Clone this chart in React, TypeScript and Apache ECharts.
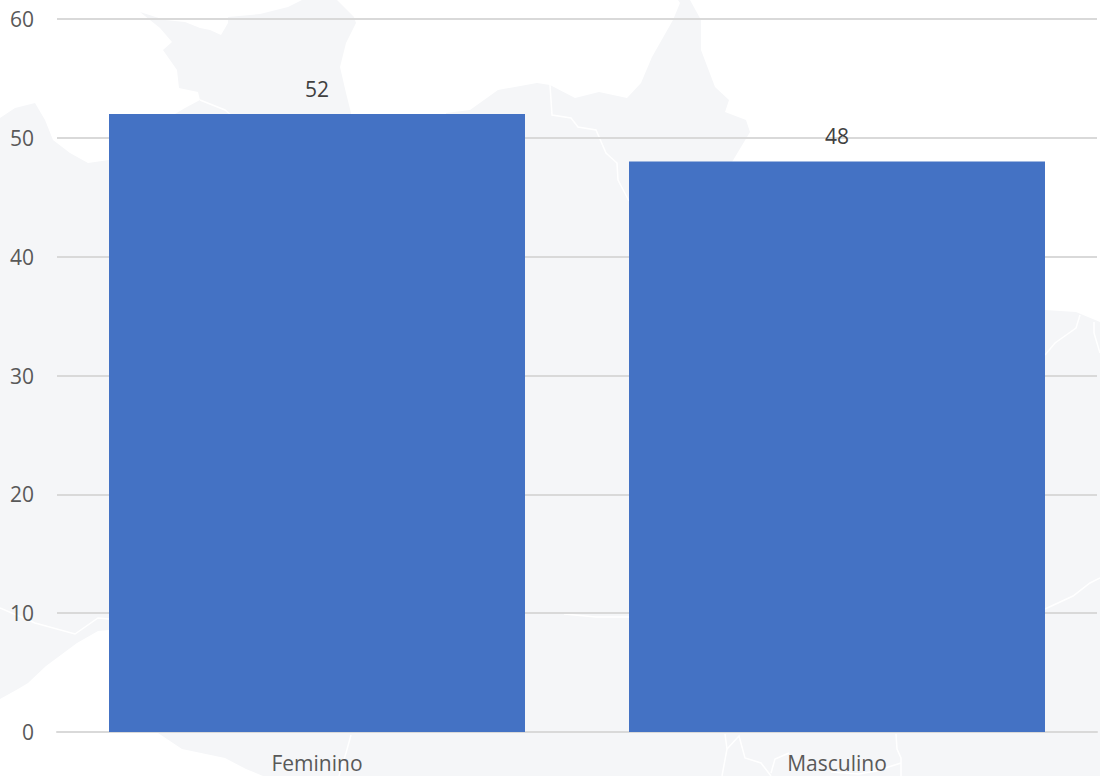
import React, { useEffect, useRef } from "react";
import * as echarts from "echarts";

const categories = ["Feminino", "Masculino"];
const values = [52, 48];
const yTicks = { min: 0, max: 60, interval: 10 };

const FONT = '"Open Sans", sans-serif';

// Faint background map, purely decorative
const mapOutline: number[][] = [
  [0, 118], [15, 108], [35, 103], [45, 120], [53, 140], [70, 153], [88, 163], [109, 160], [150, 125],
  [175, 114], [185, 108], [200, 100], [198, 92], [179, 88], [177, 70], [170, 60], [163, 50], [172, 42],
  [160, 28], [140, 12], [165, 20], [185, 22], [200, 28], [210, 30], [221, 35], [228, 23], [228, 17],
  [260, 14], [288, 7], [302, 0], [337, 0], [354, 17], [356, 23], [346, 43], [340, 67], [346, 93], [351, 113],
  [351, 120], [446, 120], [446, 113], [470, 110], [498, 90], [537, 83], [550, 85], [575, 98], [599, 92],
  [627, 98], [641, 83], [652, 57], [673, 20], [680, 3], [678, 0], [690, 0], [701, 20], [701, 50], [715, 87],
  [729, 100], [725, 112], [746, 120], [750, 132], [732, 162], [760, 200], [1045, 310], [1076, 312],
  [1100, 322], [1100, 776], [263, 776], [246, 769], [225, 758], [182, 749], [158, 733], [130, 680],
  [109, 630], [98, 631], [77, 643], [46, 666], [28, 683], [18, 689], [0, 699],
];
const borderLines: number[][][] = [
  [[200, 100], [225, 110], [232, 116]],
  [[550, 85], [552, 115], [571, 118], [578, 127], [596, 130], [606, 153], [617, 163], [618, 180], [629, 201]],
  [[1045, 355], [1055, 343], [1076, 328], [1080, 315]],
  [[1094, 322], [1094, 333], [1100, 353]],
  [[0, 608], [35, 623], [75, 634], [98, 618], [109, 619]],
  [[351, 735], [346, 753], [339, 776]],
  [[564, 614], [596, 617], [629, 617]],
  [[1045, 609], [1073, 596], [1090, 583], [1100, 578]],
  [[725, 734], [727, 749], [722, 776]],
  [[727, 749], [739, 736], [745, 758], [761, 763], [771, 776]],
  [[771, 773], [775, 759], [789, 753]],
  [[896, 734], [897, 749], [901, 758], [901, 776]],
  [[831, 772], [859, 774], [876, 771], [901, 763]],
];

export default function App() {
  const ref = useRef<HTMLDivElement>(null);
  useEffect(() => {
    document.body.style.margin = "0";
    const chart = echarts.init(ref.current!, undefined, { renderer: "svg" });
    chart.setOption({
      animation: false,
      backgroundColor: "#ffffff",
      graphic: {
        z: -1,
        elements: [
          {
            type: "polygon",
            silent: true,
            shape: { points: mapOutline },
            style: { fill: "#f5f6f8", stroke: "none" },
          },
          ...borderLines.map((points) => ({
            type: "polyline",
            silent: true,
            shape: { points },
            style: { stroke: "#ffffff", lineWidth: 1.5, fill: "none" },
          })),
        ],
      },
      grid: { left: 57, right: 3, top: 19, bottom: 44 },
      xAxis: {
        type: "category",
        data: categories,
        axisTick: { show: false },
        axisLine: { lineStyle: { color: "#d9d9d9", width: 2 } },
        axisLabel: { color: "#595959", fontFamily: FONT, fontSize: 21, margin: 20 },
      },
      yAxis: {
        type: "value",
        ...yTicks,
        axisLine: { show: false },
        axisTick: { show: false },
        splitLine: { lineStyle: { color: "#d9d9d9", width: 2 } },
        axisLabel: { color: "#595959", fontFamily: FONT, fontSize: 21, margin: 23 },
      },
      series: [
        {
          type: "bar",
          data: values,
          barCategoryGap: "20%",
          itemStyle: { color: "#4472c4" },
          label: {
            show: true,
            position: "top",
            distance: 15,
            color: "#404040",
            fontFamily: FONT,
            fontSize: 21,
          },
        },
      ],
    });
    return () => chart.dispose();
  }, []);
  return <div ref={ref} style={{ width: 1100, height: 776 }} />;
}
